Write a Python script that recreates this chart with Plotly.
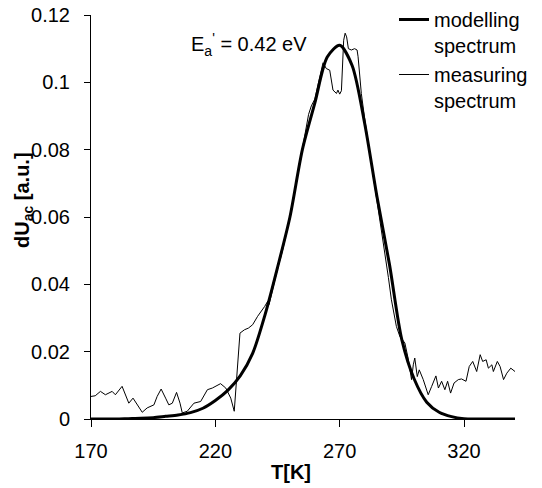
import plotly.graph_objects as go

# modelling spectrum (thick smooth curve)
T_MODEL = [170, 175, 180, 185, 190, 195, 200, 205, 210, 215, 220, 225, 230, 235,
           240, 245, 250, 255, 260, 265, 270, 275, 280, 285, 290, 295, 300, 305,
           310, 315, 320, 325, 330, 335, 340.5]
DU_MODEL = [0, 0, 0, 0.0001, 0.0002, 0.0004, 0.0008, 0.0012, 0.0019, 0.0032,
            0.0055, 0.0085, 0.0128, 0.0195, 0.031, 0.045, 0.060, 0.080, 0.0938,
            0.1075, 0.111, 0.105, 0.088, 0.066, 0.046, 0.0235, 0.0118, 0.005,
            0.002, 0.0007, 0.0001, 0, 0, 0, 0]

# measuring spectrum (thin noisy curve)
T_MEAS = [170, 171.7, 173.8, 175.8, 178.5, 179.8, 182.5, 183.8, 185.2, 186.9,
          188.5, 190.6, 192.6, 195.3, 196.6, 198.2, 200, 201.3, 202.7, 204.4,
          205.8, 206.7, 208.7, 211.4, 214.1, 216.8, 218.8, 222.1, 224.2, 226.2,
          227.6, 229.9, 231.7, 233.3, 235, 237, 239.8, 241.1, 241.6, 243, 245,
          247, 249, 251, 253, 255, 256.5, 257.5, 258.6, 260, 261.5, 263.3, 264.6,
          266, 267.3, 268.7, 269.3, 270, 270.7, 271, 271.6, 272.2, 272.8, 273.5,
          274.7, 276, 277, 277.4, 278, 278.7, 280, 282, 284, 286, 288, 289.6,
          290.8, 291.5, 292.8, 294.2, 296.2, 297.5, 298.9, 299.6, 300.2, 301.2,
          302, 303.6, 305.6, 307, 308.7, 309.7, 311, 312.3, 313.4, 314.6, 316,
          317.7, 319, 320.8, 322.1, 323.5, 325.1, 326.5, 327.5, 328.9, 329.8,
          331.2, 331.8, 333.4, 334.5, 335.9, 337.2, 338.8, 340.5]
DU_MEAS = [0.0067, 0.0069, 0.0082, 0.0072, 0.0082, 0.0072, 0.0097, 0.0072, 0.0047,
           0.0062, 0.0042, 0.0020, 0.0033, 0.0042, 0.0067, 0.0089, 0.0062, 0.0042,
           0.0047, 0.0079, 0.0047, 0.0018, 0.0023, 0.0047, 0.0052, 0.0087, 0.0092,
           0.0105, 0.0092, 0.0062, 0.0023, 0.0255, 0.0265, 0.027, 0.028, 0.0305,
           0.0334, 0.035, 0.034, 0.0385, 0.0445, 0.050, 0.0565, 0.064, 0.072, 0.080,
           0.0865, 0.0905, 0.093, 0.095, 0.100, 0.1058, 0.1041, 0.1036, 0.0977,
           0.0967, 0.0977, 0.0965, 0.0975, 0.1036, 0.1125, 0.1146, 0.1135, 0.110,
           0.1096, 0.110, 0.1096, 0.1076, 0.1027, 0.0967, 0.0895, 0.0795, 0.070,
           0.0605, 0.051, 0.042, 0.0354, 0.0324, 0.0275, 0.0245, 0.0226, 0.0181,
           0.0117, 0.0161, 0.0181, 0.0126, 0.0146, 0.0117, 0.0072, 0.0097, 0.0128,
           0.0092, 0.0112, 0.0087, 0.0112, 0.0077, 0.0107, 0.0117, 0.0119, 0.0112,
           0.0156, 0.0171, 0.0141, 0.0191, 0.0171, 0.0176, 0.0151, 0.0161, 0.0141,
           0.0171, 0.0156, 0.0117, 0.0136, 0.0151, 0.0141]

X_TICKS = [170, 220, 270, 320]
Y_TICKS = [0, 0.02, 0.04, 0.06, 0.08, 0.1, 0.12]
Y_TICK_TEXT = ["0", "0.02", "0.04", "0.06", "0.08", "0.1", "0.12"]

FONT = "Arial, Liberation Sans, sans-serif"

W, H = 542, 488
# plot area in pixels
L, R, T, B = 91, 515, 15, 419


def px(x):
    return (x - L) / (R - L)


def py(y):
    return (B - y) / (B - T)


fig = go.Figure()
fig.add_trace(go.Scatter(
    x=T_MODEL, y=DU_MODEL, mode="lines", name="modelling<br>spectrum",
    line=dict(color="black", width=3, shape="spline", smoothing=0.8),
))
fig.add_trace(go.Scatter(
    x=T_MEAS, y=DU_MEAS, mode="lines", name="measuring<br>spectrum",
    line=dict(color="black", width=1),
))

fig.add_annotation(
    text="E<sub>a</sub><sup>'</sup> = 0.42 eV", x=px(189), y=py(45),
    xref="paper", yref="paper", showarrow=False, xanchor="left", yanchor="middle",
    font=dict(size=20, color="black", family=FONT),
)
fig.add_annotation(
    text="<b>T[K]</b>", x=px(291), y=py(472), xref="paper", yref="paper",
    showarrow=False, xanchor="center", yanchor="middle",
    font=dict(size=20, color="black", family=FONT),
)
fig.add_annotation(
    text="<b>dU<sub>ac</sub> [a.u.]</b>", x=px(24), y=py(200),
    xref="paper", yref="paper", showarrow=False, textangle=-90,
    xanchor="center", yanchor="middle",
    font=dict(size=20, color="black", family=FONT),
)

fig.update_xaxes(
    range=[170, 340.5], tickvals=X_TICKS, ticks="outside", ticklen=7,
    tickcolor="black", showline=True, linecolor="black", linewidth=1,
    showgrid=False, zeroline=False, ticklabelstandoff=7,
    ticklabeloverflow="allow",
    tickfont=dict(size=20, color="black", family=FONT),
)
fig.update_yaxes(
    range=[0, 0.12], tickvals=Y_TICKS, ticktext=Y_TICK_TEXT, ticks="outside",
    ticklen=6, tickcolor="black", showline=True, linecolor="black", linewidth=1,
    showgrid=False, zeroline=False, ticklabelstandoff=10,
    ticklabeloverflow="allow",
    tickfont=dict(size=20, color="black", family=FONT),
)
fig.update_layout(
    width=W, height=H,
    margin=dict(l=L, r=W - R, t=T, b=H - B, autoexpand=False),
    plot_bgcolor="white", paper_bgcolor="white",
    font=dict(family=FONT, size=20, color="black"),
    legend=dict(
        x=px(394), y=py(0), xanchor="left", yanchor="top",
        valign="top", bgcolor="rgba(0,0,0,0)", tracegroupgap=0,
        font=dict(size=20, color="black", family=FONT),
    ),
)

# drop the default 8px body margin so the figure sits at the window corner
fig.write_html(
    "out.html",
    config={"displayModeBar": False},
    post_script="document.body.style.margin = '0';",
)
